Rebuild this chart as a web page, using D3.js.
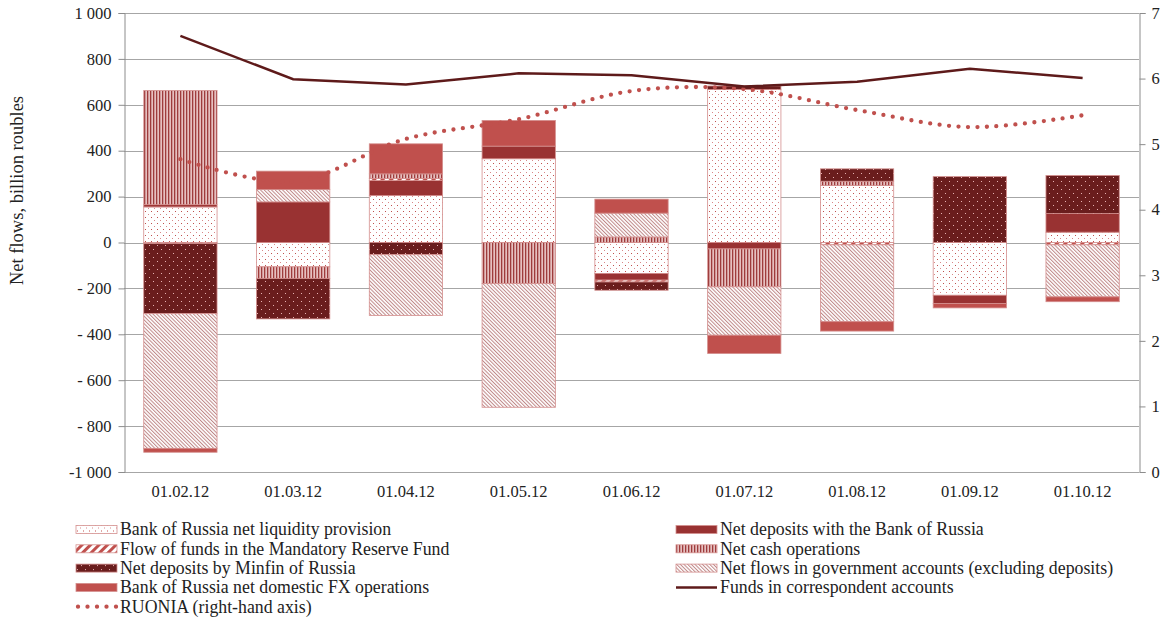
<!DOCTYPE html>
<html>
<head>
<meta charset="utf-8">
<script src="https://cdn.jsdelivr.net/npm/d3@7"></script>
<style>
  body { margin: 0; background: #fff; }
  svg { display: block; font-family: "Liberation Serif", "DejaVu Serif", serif; }
</style>
</head>
<body>
<div id="chart"></div>
<script>
// dates of the observations
const dates = ["01.02.12", "01.03.12", "01.04.12", "01.05.12", "01.06.12", "01.07.12", "01.08.12", "01.09.12", "01.10.12"];

// net flows, billion roubles (left axis)
const liquidity = [155, -106, 205, 365, -135, 667, 248, -230, 45];
const depositsBoR = [10, 177, 65, 55, -29, -28, 0, -36, 81];
const reserveFund = [-5, 0, 9, 0, -8, 0, -10, 0, -10];
const cashOps = [497, -51, 20, -179, 24, -165, 19, 0, 0];
const minfin = [-305, -176, -53, 0, -36, 15, 54, 287, 166];
const govFlows = [-587, 54, -265, -539, 104, -211, -335, 0, -227];
const fxOps = [-17, 80, 131, 112, 61, -80, -41, -19, -21];

// percent (right axis)
const corrAccounts = [6.65, 5.99, 5.91, 6.08, 6.05, 5.88, 5.95, 6.15, 6.01];
const ruonia = [4.77, 4.43, 5.08, 5.38, 5.81, 5.84, 5.52, 5.26, 5.44];

const leftTicks = [-1000, -800, -600, -400, -200, 0, 200, 400, 600, 800, 1000];
const leftTickLabels = ["-1 000", "- 800", "- 600", "- 400", "- 200", "0", "200", "400", "600", "800", "1 000"];
const rightTicks = [0, 1, 2, 3, 4, 5, 6, 7];

const seriesKeys = ["liquidity", "depositsBoR", "reserveFund", "cashOps", "minfin", "govFlows", "fxOps"];
const seriesLabels = {
  liquidity: "Bank of Russia net liquidity provision",
  depositsBoR: "Net deposits with the Bank of Russia",
  reserveFund: "Flow of funds in the Mandatory Reserve Fund",
  cashOps: "Net cash operations",
  minfin: "Net deposits by Minfin of Russia",
  govFlows: "Net flows in government accounts (excluding deposits)",
  fxOps: "Bank of Russia net domestic FX operations",
  corr: "Funds in correspondent accounts",
  ruonia: "RUONIA (right-hand axis)"
};
const seriesValues = { liquidity, depositsBoR, reserveFund, cashOps, minfin, govFlows, fxOps };

const width = 1171, height = 619;
const plotLeft = 124, plotRight = 1139, plotTop = 13, plotBottom = 472;

const table = dates.map((d, i) => {
  const row = { date: d };
  for (const k of seriesKeys) row[k] = seriesValues[k][i];
  return row;
});

const svg = d3.select("#chart").append("svg")
  .attr("width", width)
  .attr("height", height)
  .attr("viewBox", [0, 0, width, height]);

// patterns for the bar fills
const defs = svg.append("defs");

const pLiq = defs.append("pattern").attr("id", "p-liquidity")
  .attr("patternUnits", "userSpaceOnUse").attr("width", 6).attr("height", 6);
pLiq.append("rect").attr("width", 6).attr("height", 6).attr("fill", "#fff");
pLiq.append("rect").attr("x", 1).attr("y", 1).attr("width", 1).attr("height", 1).attr("fill", "#c0504d");
pLiq.append("rect").attr("x", 4).attr("y", 4).attr("width", 1).attr("height", 1).attr("fill", "#d9898a");

const pMrf = defs.append("pattern").attr("id", "p-reserve")
  .attr("patternUnits", "userSpaceOnUse").attr("width", 6).attr("height", 6)
  .attr("patternTransform", "rotate(45)");
pMrf.append("rect").attr("width", 6).attr("height", 6).attr("fill", "#fff");
pMrf.append("rect").attr("width", 3).attr("height", 6).attr("fill", "#c0504d");

const pMin = defs.append("pattern").attr("id", "p-minfin")
  .attr("patternUnits", "userSpaceOnUse").attr("width", 8).attr("height", 8);
pMin.append("rect").attr("width", 8).attr("height", 8).attr("fill", "#6a1d1d");
pMin.append("rect").attr("x", 1).attr("y", 1).attr("width", 1).attr("height", 1).attr("fill", "#e7b3b3");
pMin.append("rect").attr("x", 5).attr("y", 5).attr("width", 1).attr("height", 1).attr("fill", "#e7b3b3");

const pCash = defs.append("pattern").attr("id", "p-cash")
  .attr("patternUnits", "userSpaceOnUse").attr("width", 3).attr("height", 3);
pCash.append("rect").attr("width", 3).attr("height", 3).attr("fill", "#e6c0c0");
pCash.append("rect").attr("width", 1.3).attr("height", 3).attr("fill", "#9e3c3c");

const pGov = defs.append("pattern").attr("id", "p-gov")
  .attr("patternUnits", "userSpaceOnUse").attr("width", 2.6).attr("height", 2.6)
  .attr("patternTransform", "rotate(-45)");
pGov.append("rect").attr("width", 2.6).attr("height", 2.6).attr("fill", "#fff");
pGov.append("rect").attr("width", 1).attr("height", 2.6).attr("fill", "#bf8787");

const fills = {
  liquidity: "url(#p-liquidity)",
  depositsBoR: "#993232",
  reserveFund: "url(#p-reserve)",
  cashOps: "url(#p-cash)",
  minfin: "url(#p-minfin)",
  govFlows: "url(#p-gov)",
  fxOps: "#c0504d"
};

const x = d3.scaleBand().domain(dates).range([plotLeft, plotRight]).paddingInner(0.35).paddingOuter(0.175);
const yL = d3.scaleLinear().domain([-1000, 1000]).range([plotBottom, plotTop]);
const yR = d3.scaleLinear().domain([0, 7]).range([plotBottom, plotTop]);

// gridlines
svg.append("g")
  .selectAll("line")
  .data(leftTicks)
  .join("line")
    .attr("x1", plotLeft).attr("x2", plotRight)
    .attr("y1", d => Math.round(yL(d)) + 0.5).attr("y2", d => Math.round(yL(d)) + 0.5)
    .attr("stroke", "#a6a6a6");

// left axis
const axL = svg.append("g")
  .attr("transform", `translate(${plotLeft + 0.5},0)`)
  .call(d3.axisLeft(yL).tickValues(leftTicks).tickSize(6).tickPadding(7)
    .tickFormat((d, i) => leftTickLabels[i]));
axL.select(".domain").attr("stroke", "#8c8c8c");
axL.selectAll(".tick line").attr("stroke", "#8c8c8c");
axL.selectAll("text").attr("font-size", 16.5).attr("font-family", "Liberation Serif").attr("fill", "#222");

// right axis
const axR = svg.append("g")
  .attr("transform", `translate(${plotRight + 0.5},0)`)
  .call(d3.axisRight(yR).tickValues(rightTicks).tickSize(6).tickPadding(6)
    .tickFormat(d3.format("d")));
axR.select(".domain").attr("stroke", "#8c8c8c");
axR.selectAll(".tick line").attr("stroke", "#8c8c8c");
axR.selectAll("text").attr("font-size", 16.5).attr("font-family", "Liberation Serif").attr("fill", "#222");

// category axis
const axX = svg.append("g")
  .attr("transform", `translate(0,${plotBottom})`)
  .call(d3.axisBottom(x).tickSize(0).tickPadding(13));
axX.select(".domain").remove();
axX.selectAll("text").attr("font-size", 16.5).attr("font-family", "Liberation Serif").attr("fill", "#222");

// y axis title
svg.append("text")
  .attr("transform", `translate(23,${(plotTop + plotBottom) / 2 - 52}) rotate(-90)`)
  .attr("text-anchor", "middle")
  .attr("font-size", 18.5)
  .attr("fill", "#222")
  .text("Net flows, billion roubles");

// stacked bars
const stacked = d3.stack().keys(seriesKeys).offset(d3.stackOffsetDiverging)(table);

svg.append("g")
  .selectAll("g")
  .data(stacked)
  .join("g")
    .attr("fill", d => fills[d.key])
  .selectAll("rect")
  .data(d => d.filter(s => s[1] - s[0] !== 0))
  .join("rect")
    .attr("x", d => x(d.data.date))
    .attr("width", x.bandwidth())
    .attr("y", d => yL(Math.max(d[0], d[1])))
    .attr("height", d => Math.abs(yL(d[0]) - yL(d[1])))
    .attr("stroke", "#d48f8e")
    .attr("stroke-width", 0.8);

// lines on right axis
const lineR = d3.line()
  .x((d, i) => x(dates[i]) + x.bandwidth() / 2)
  .y(d => yR(d));

svg.append("path")
  .datum(ruonia)
  .attr("d", lineR.curve(d3.curveCatmullRom.alpha(0.5)))
  .attr("fill", "none")
  .attr("stroke", "#c0504d")
  .attr("stroke-width", 4.3)
  .attr("stroke-linecap", "round")
  .attr("stroke-dasharray", "0 9.5");

svg.append("path")
  .datum(corrAccounts)
  .attr("d", lineR.curve(d3.curveLinear))
  .attr("fill", "none")
  .attr("stroke", "#5e1a1a")
  .attr("stroke-width", 2.5);

// legend
const legendItems = [
  { key: "liquidity", col: 0, row: 0 },
  { key: "reserveFund", col: 0, row: 1 },
  { key: "minfin", col: 0, row: 2 },
  { key: "fxOps", col: 0, row: 3 },
  { key: "ruonia", col: 0, row: 4 },
  { key: "depositsBoR", col: 1, row: 0 },
  { key: "cashOps", col: 1, row: 1 },
  { key: "govFlows", col: 1, row: 2 },
  { key: "corr", col: 1, row: 3 }
];
const legendCols = [76, 676];
const legendRow0 = 529.5, legendStep = 19.3;

const lg = svg.append("g")
  .selectAll("g")
  .data(legendItems)
  .join("g")
    .attr("transform", d => `translate(${legendCols[d.col]},${legendRow0 + d.row * legendStep})`);

lg.filter(d => d.key !== "ruonia" && d.key !== "corr")
  .append("rect")
    .attr("x", 0).attr("y", -4).attr("width", 41).attr("height", 8)
    .attr("fill", d => fills[d.key])
    .attr("stroke", "#d48f8e").attr("stroke-width", 0.8);

lg.filter(d => d.key === "ruonia")
  .append("line")
    .attr("x1", 2).attr("x2", 41).attr("y1", 0).attr("y2", 0)
    .attr("stroke", "#c0504d").attr("stroke-width", 4.3)
    .attr("stroke-linecap", "round").attr("stroke-dasharray", "0 9.5");

lg.filter(d => d.key === "corr")
  .append("line")
    .attr("x1", 0).attr("x2", 41).attr("y1", 0).attr("y2", 0)
    .attr("stroke", "#5e1a1a").attr("stroke-width", 2.5);

lg.append("text")
  .attr("x", 44)
  .attr("dy", "0.33em")
  .attr("font-size", 17.8)
  .attr("fill", "#222")
  .text(d => seriesLabels[d.key]);
</script>
</body>
</html>
